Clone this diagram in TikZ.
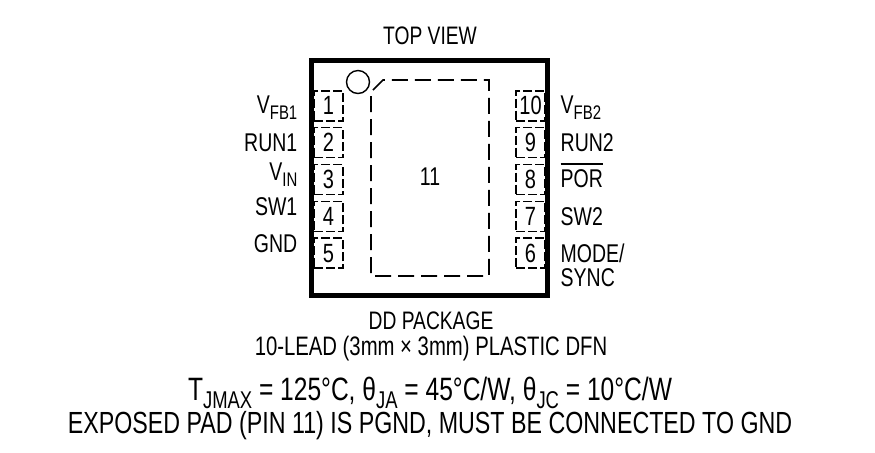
\documentclass[tikz,border=0pt]{standalone}
\usepackage{fontspec}
\setmainfont[FakeStretch=0.76]{Liberation Sans}
\usepackage{tikz}
\newcommand{\subtxt}[1]{\raisebox{-0.45ex}{\fontsize{5.6}{6}\selectfont #1}}
\newcommand{\bigsub}[1]{\raisebox{-0.5ex}{\fontsize{6.9}{7}\selectfont #1}}
\tikzset{
  pinbox/.style={draw,line width=0.17mm,dash pattern=on 0.09cm off 0.03cm,minimum width=0.29cm,minimum height=0.30cm,inner sep=0pt,font=\fontsize{7.5}{8}\selectfont},
  pinlabel/.style={inner sep=0pt,font=\fontsize{7.3}{8}\selectfont},
  caption/.style={inner sep=0pt,anchor=base,font=\fontsize{7.2}{8}\selectfont},
  bigcaption/.style={inner sep=0pt,anchor=base,font=\fontsize{8.7}{9}\selectfont}
}
\begin{document}
\begin{tikzpicture}
    \useasboundingbox (0,0) rectangle (8.75,4.52);
    \draw[line width=0.05cm] (3.115,3.915) rectangle (5.475,1.57);
    \node[draw,circle,line width=0.14mm,minimum size=0.23cm,inner sep=0pt] (dot) at (3.58,3.70) {};
    \draw[line width=0.17mm,dash pattern=on 0.16cm off 0.07cm] (3.73,3.62) -- (3.83,3.72) -- (4.89,3.72) -- (4.89,1.76) -- (3.71,1.76) -- (3.71,3.57);
    \node[pinlabel,anchor=base] (pad) at (4.30,2.67) {11};
    % pins, left and right column
    \foreach \n [evaluate=\n as \ypin using 3.463-0.369*(\n-1)] in {1,...,5} {
      \node[pinbox] (pin\n) at (3.285,\ypin) {\n};
    }
    \foreach \n [evaluate=\n as \ypin using 3.463-0.369*(10-\n)] in {10,9,8,7,6} {
      \node[pinbox] (pin\n) at (5.305,\ypin) {\n};
    }
    \node[pinlabel,anchor=base east] (vfbone) at (2.98,3.39) {V\subtxt{FB1}};
    \node[pinlabel,anchor=base east] (runone) at (2.98,3.01) {RUN1};
    \node[pinlabel,anchor=base east] (vin) at (2.98,2.72) {V\subtxt{IN}};
    \node[pinlabel,anchor=base east] (swone) at (2.98,2.37) {SW1};
    \node[pinlabel,anchor=base east] (gnd) at (2.98,2.00) {GND};
    \node[pinlabel,anchor=base west] (vfbtwo) at (5.60,3.39) {V\subtxt{FB2}};
    \node[pinlabel,anchor=base west] (runtwo) at (5.60,3.01) {RUN2};
    \node[pinlabel,anchor=base west] (por) at (5.60,2.65) {$\overline{\mbox{POR}}$};
    \node[pinlabel,anchor=base west] (swtwo) at (5.60,2.27) {SW2};
    \node[pinlabel,anchor=base west] (mode) at (5.60,1.90) {MODE/};
    \node[pinlabel,anchor=base west] (sync) at (5.60,1.66) {SYNC};
    % text above and below the package
    \node[caption] (top) at (4.30,4.08) {TOP VIEW};
    \node[caption] (pkg) at (4.31,1.23) {DD PACKAGE};
    \node[caption,font=\fontsize{7.6}{8}\selectfont] (lead) at (4.31,0.97) {10-LEAD (3mm × 3mm) PLASTIC DFN};
    \node[bigcaption,font=\fontsize{9.2}{9}\selectfont] (temp) at (4.30,0.52) {T\bigsub{JMAX} = 125°C, θ\bigsub{JA} = 45°C/W, θ\bigsub{JC} = 10°C/W};
    \node[bigcaption] (note) at (4.30,0.19) {EXPOSED PAD (PIN 11) IS PGND, MUST BE CONNECTED TO GND};
  \end{tikzpicture}
\end{document}
